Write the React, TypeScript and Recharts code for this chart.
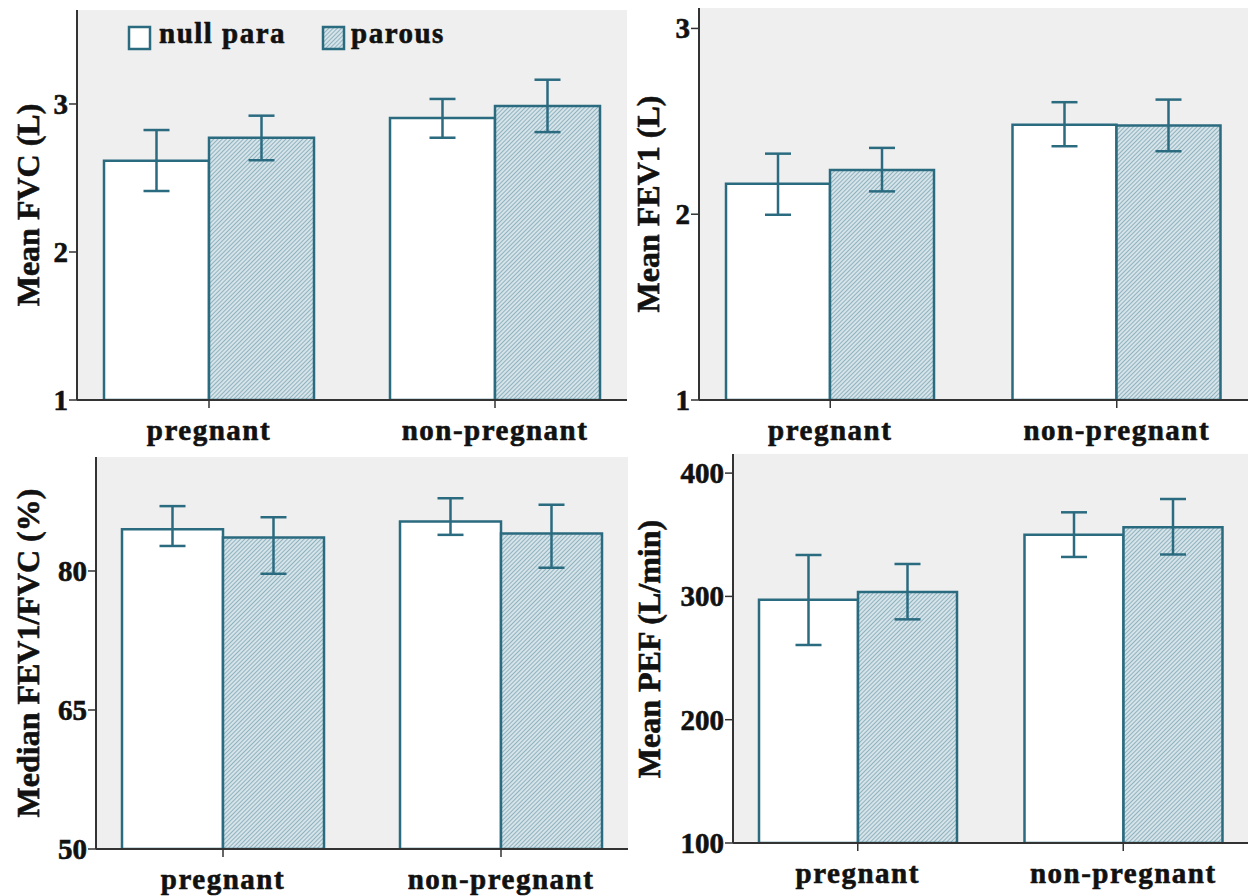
import React from "react";
import { BarChart, Bar, XAxis, YAxis, CartesianGrid, ErrorBar } from "recharts";

// categories
const groups = ["pregnant", "non-pregnant"];

// FVC (L), mean with 95% CI  [minus, plus]
const fvcNull = [2.617, 2.905];
const fvcNullErr = [[0.205, 0.207], [0.133, 0.129]];
const fvcParous = [2.772, 2.986];
const fvcParousErr = [[0.152, 0.149], [0.176, 0.178]];
const fvcTicks = [1, 2, 3];

// FEV1 (L)
const fev1Null = [2.164, 2.482];
const fev1NullErr = [[0.167, 0.162], [0.116, 0.121]];
const fev1Parous = [2.238, 2.477];
const fev1ParousErr = [[0.115, 0.119], [0.138, 0.14]];
const fev1Ticks = [1, 2, 3];

// FEV1/FVC (%), median
const ratioNull = [84.5, 85.35];
const ratioNullErr = [[1.8, 2.5], [1.45, 2.5]];
const ratioParous = [83.6, 84.05];
const ratioParousErr = [[3.9, 2.2], [3.7, 3.1]];
const ratioTicks = [50, 65, 80];

// PEF (L/min)
const pefNull = [297.3, 350];
const pefNullErr = [[36.7, 36.3], [18, 18.2]];
const pefParous = [303.6, 356];
const pefParousErr = [[22.2, 22.7], [22, 23]];
const pefTicks = [100, 200, 300, 400];

const FONT = '"Liberation Serif", "Times New Roman", serif';
const TEAL = "#2b6b80";
const FRAME = "#333";
const PLOT_BG = "#efefef";
const INK = "#111";

const Hatch = ({ id }: { id: string }) => (
  <pattern id={id} width="3" height="3" patternUnits="userSpaceOnUse" patternTransform="rotate(45)">
    <rect width="3" height="3" fill="#d6e4e9" />
    <line x1="0" y1="0" x2="0" y2="3" stroke="#5f91a3" strokeWidth="1.2" />
  </pattern>
);

const XTick = (props: any) => {
  const { x, y, payload } = props;
  return (
    <text x={x} y={y + 32} textAnchor="middle" fontFamily={FONT} fontWeight="bold" fontSize={29} letterSpacing={1.5} fill={INK} stroke={INK} strokeWidth={0.6}>
      {payload.value}
    </text>
  );
};

const YTick = (props: any) => {
  const { x, y, payload } = props;
  return (
    <text x={x} y={y + 10} textAnchor="end" fontFamily={FONT} fontWeight="bold" fontSize={29} fill={INK} stroke={INK} strokeWidth={0.6}>
      {payload.value}
    </text>
  );
};

interface PanelProps {
  id: string;
  box: number[]; // left, top, width, height on page
  frame: number[]; // x0, y0, x1, y1 on page
  nullVals: number[];
  nullErr: number[][];
  parousVals: number[];
  parousErr: number[][];
  domain: [number, number];
  ticks: number[];
  barSize: number;
  pad: number;
  title: string;
  titleX: number;
}

const Panel = (p: PanelProps) => {
  const [bl, bt, bw, bh] = p.box;
  const [x0, y0, x1, y1] = p.frame;
  const data = groups.map((g, i) => ({
    group: g,
    nullPara: p.nullVals[i],
    nullErr: p.nullErr[i],
    parous: p.parousVals[i],
    parousErr: p.parousErr[i],
  }));
  const xh = 40;
  return (
    <>
      <div style={{ position: "absolute", left: bl, top: bt, width: bw, height: bh }}>
        <BarChart
          width={bw}
          height={bh}
          data={data}
          barGap={0}
          barSize={p.barSize}
          margin={{ top: y0 - bt, right: bl + bw - x1, bottom: bt + bh - y1 - xh, left: 0 }}
        >
          <defs>
            <Hatch id={`hatch-${p.id}`} />
          </defs>
          <CartesianGrid fill={PLOT_BG} horizontal={false} vertical={false} />
          <XAxis
            dataKey="group"
            height={xh}
            padding={{ left: -p.pad, right: -p.pad }}
            tickSize={8}
            tickMargin={0}
            axisLine={{ stroke: FRAME, strokeWidth: 2 }}
            tickLine={{ stroke: FRAME, strokeWidth: 1.5 }}
            tick={<XTick />}
          />
          <XAxis xAxisId="top" orientation="top" dataKey="group" height={0} tick={false} tickLine={false} axisLine={{ stroke: FRAME, strokeWidth: 2 }} />
          <YAxis
            type="number"
            width={x0 - bl}
            domain={p.domain}
            ticks={p.ticks}
            allowDataOverflow
            tickSize={8}
            tickMargin={1}
            axisLine={{ stroke: FRAME, strokeWidth: 2 }}
            tickLine={{ stroke: FRAME, strokeWidth: 1.5 }}
            tick={<YTick />}
          />
          <YAxis yAxisId="right" orientation="right" type="number" width={0} domain={p.domain} tick={false} tickLine={false} axisLine={{ stroke: FRAME, strokeWidth: 2 }} />
          <Bar dataKey="nullPara" fill="#fff" stroke={TEAL} strokeWidth={2.5} isAnimationActive={false}>
            <ErrorBar dataKey="nullErr" width={13} stroke={TEAL} strokeWidth={2.5} isAnimationActive={false} />
          </Bar>
          <Bar dataKey="parous" fill={`url(#hatch-${p.id})`} stroke={TEAL} strokeWidth={2.5} isAnimationActive={false}>
            <ErrorBar dataKey="parousErr" width={13} stroke={TEAL} strokeWidth={2.5} isAnimationActive={false} />
          </Bar>
        </BarChart>
      </div>
      <div
        style={{
          position: "absolute",
          left: p.titleX,
          top: (y0 + y1) / 2,
          transform: "translate(-50%, -50%) rotate(-90deg)",
          whiteSpace: "nowrap",
          fontFamily: FONT,
          fontWeight: "bold",
          fontSize: 32,
          lineHeight: 1,
          color: INK,
          WebkitTextStroke: "0.6px #111",
        }}
      >
        {p.title}
      </div>
    </>
  );
};

const LegendBox = () => (
  <svg style={{ position: "absolute", left: 0, top: 0 }} width={640} height={60}>
    <defs>
      <Hatch id="hatch-legend" />
    </defs>
    <rect x={129} y={27} width={21} height={22} fill="#fff" stroke={TEAL} strokeWidth={2.5} />
    <text x={159} y={43} fontFamily={FONT} fontWeight="bold" fontSize={29} letterSpacing={1.5} fill={INK} stroke={INK} strokeWidth={0.6}>
      null para
    </text>
    <rect x={323} y={27} width={21} height={22} fill="url(#hatch-legend)" stroke={TEAL} strokeWidth={2.5} />
    <text x={351} y={43} fontFamily={FONT} fontWeight="bold" fontSize={29} letterSpacing={1.5} fill={INK} stroke={INK} strokeWidth={0.6}>
      parous
    </text>
  </svg>
);

export default function App() {
  return (
    <div style={{ position: "absolute", left: 0, top: 0, width: 1250, height: 896, background: "#fff", overflow: "hidden" }}>
      <Panel
        id="fvc"
        box={[0, 0, 640, 448]}
        frame={[77, 10, 627, 400]}
        nullVals={fvcNull}
        nullErr={fvcNullErr}
        parousVals={fvcParous}
        parousErr={fvcParousErr}
        domain={[1, 3.635]}
        ticks={fvcTicks}
        barSize={105}
        pad={11}
        title="Mean FVC (L)"
        titleX={28}
      />
      <Panel
        id="fev1"
        box={[640, 0, 610, 448]}
        frame={[699, 8, 1248, 400]}
        nullVals={fev1Null}
        nullErr={fev1NullErr}
        parousVals={fev1Parous}
        parousErr={fev1ParousErr}
        domain={[1, 3.11]}
        ticks={fev1Ticks}
        barSize={104}
        pad={12}
        title="Mean FEV1 (L)"
        titleX={648}
      />
      <Panel
        id="ratio"
        box={[0, 448, 640, 448]}
        frame={[96, 457, 628, 849]}
        nullVals={ratioNull}
        nullErr={ratioNullErr}
        parousVals={ratioParous}
        parousErr={ratioParousErr}
        domain={[50, 92.3]}
        ticks={ratioTicks}
        barSize={101}
        pad={12}
        title="Median FEV1/FVC (%)"
        titleX={28}
      />
      <Panel
        id="pef"
        box={[640, 448, 610, 448]}
        frame={[733, 454, 1248, 843]}
        nullVals={pefNull}
        nullErr={pefNullErr}
        parousVals={pefParous}
        parousErr={pefParousErr}
        domain={[100, 415.5]}
        ticks={pefTicks}
        barSize={99}
        pad={8}
        title="Mean PEF (L/min)"
        titleX={649}
      />
      <LegendBox />
    </div>
  );
}
